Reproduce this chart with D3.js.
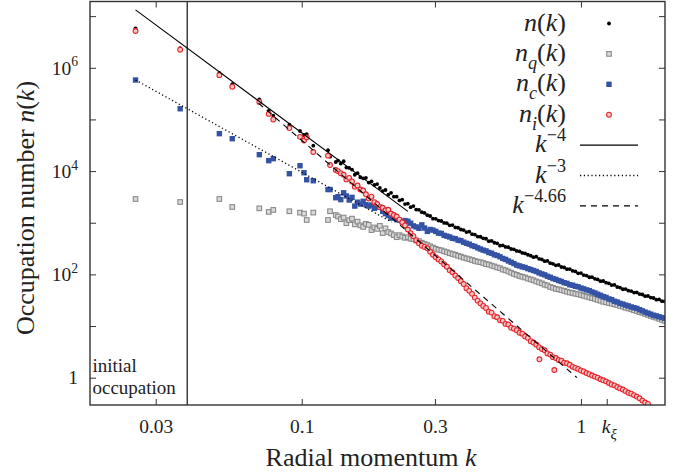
<!DOCTYPE html>
<html>
<head>
<meta charset="utf-8">
<script src="https://cdn.jsdelivr.net/npm/d3@7"></script>
<style>
  body { margin: 0; background: #fff; }
  #chart text { font-family: 'Liberation Serif', 'DejaVu Serif', serif; fill: #222; }
</style>
</head>
<body>
<svg id="chart" width="684" height="476"></svg>
<script>
// radial momentum bins, shared by the four spectra
const k = [
  0.0254, 0.0367, 0.0507, 0.0564, 0.0705, 0.0762, 0.0791, 0.0903, 0.0986, 0.1019, 0.1042, 0.1100, 0.1242, 0.1263, 0.1324,
  0.1349, 0.1380, 0.1413, 0.1445, 0.1479, 0.1514, 0.1549, 0.1585,
  0.1622, 0.1660, 0.1698, 0.1738, 0.1778, 0.1820, 0.1862, 0.1905, 0.1950, 0.1995,
  0.2042, 0.2089, 0.2138, 0.2188, 0.2239, 0.2291, 0.2344, 0.2399, 0.2455, 0.2512,
  0.2570, 0.2630, 0.2692, 0.2754, 0.2818, 0.2884, 0.2951, 0.3020, 0.3090, 0.3162,
  0.3236, 0.3311, 0.3388, 0.3467, 0.3548, 0.3631, 0.3715, 0.3802, 0.3890, 0.3981,
  0.4074, 0.4169, 0.4266, 0.4365, 0.4467, 0.4571, 0.4677, 0.4786, 0.4898, 0.5012,
  0.5129, 0.5248, 0.5370, 0.5495, 0.5623, 0.5754, 0.5888, 0.6026, 0.6166, 0.6310,
  0.6457, 0.6607, 0.6761, 0.6918, 0.7079, 0.7244, 0.7413, 0.7586, 0.7762, 0.7943,
  0.8128, 0.8318, 0.8511, 0.8710, 0.8913, 0.9120, 0.9333, 0.9550, 0.9772, 1.000,
  1.023, 1.047, 1.072, 1.096, 1.122, 1.148, 1.175, 1.202, 1.230, 1.259,
  1.288, 1.318, 1.349, 1.380, 1.413, 1.445, 1.479, 1.514, 1.549, 1.585,
  1.622, 1.660, 1.698, 1.738, 1.778, 1.820, 1.862, 1.905, 1.950, 1.995
];

// n(k), total
const nTotal = [
  5.8e6, 2.39e6, 8.0e5, 4.8e5, 2.45e5, 1.46e5, 1.18e5, 7.9e4, 5.97e4, 5.0e4, 5.2e4, 3.1e4, 2.53e4, 1.9e4, 1.5e4,
  1.6e4, 1.4e4, 1.55e4, 1.17e4, 1.15e4, 1.07e4, 8.5e3, 9.1e3,
  7.6e3, 7.2e3, 7.4e3, 6.0e3, 6.3e3, 5.4e3, 5.6e3, 4.7e3, 4.1e3, 4.3e3,
  3.5e3, 3.8e3, 3.2e3, 3.2e3, 2.7e3, 2.8e3, 2.3e3, 2.34e3, 2.0e3, 2.1e3,
  1.8e3, 1.78e3, 1.6e3, 1.55e3, 1.4e3, 1.35e3, 1.2e3, 1.19e3, 1.1e3, 1.08e3,
  990, 980, 890, 900, 810, 800, 740, 720, 660, 670,
  600, 590, 540, 535, 500, 490, 440, 445, 410, 400,
  360, 365, 340, 335, 310, 305, 285, 280, 260, 255,
  240, 230, 215, 220, 200, 195, 180, 182, 165, 160,
  150, 152, 139, 136, 126, 127, 117, 114, 105, 106,
  97, 95, 88, 88.5, 82, 80, 74, 74.5, 69, 67,
  62, 62.5, 57, 55.6, 51.6, 52, 48.4, 47.6, 44.4, 44.7,
  41.5, 40.8, 37.9, 38.2, 35.5, 34.9, 32.4, 32.7, 30.3, 29.9
];

// n_q(k), quantum pressure part
const nQuantum = [
  2.88e3, 2.52e3, 2.88e3, 2.02e3, 1.9e3, 1.62e3, 1.77e3, 1.67e3, 1.57e3, 1.5e3, 1.13e3, 1.57e3, 1.13e3, 1.67e3, 1.41e3,
  1.32e3, 1.17e3, 1.26e3, 980, 1.12e3, 1.2e3, 930, 1.05e3,
  890, 830, 950, 910, 720, 810, 760, 870, 630, 780,
  660, 620, 575, 525, 575, 540, 510, 525, 490, 480,
  450, 440, 410, 390, 370, 350, 330, 313, 300, 292,
  279, 270, 257, 248, 240, 229, 221, 211, 204, 197,
  190, 182, 176, 172, 166, 158, 155, 148, 143, 136,
  132, 124, 120, 114, 108, 102, 98, 93, 90, 87,
  83, 80, 77, 73, 70, 67, 63, 61, 57, 55,
  52.5, 51.3, 49.5, 47.9, 46.2, 44.7, 43.7, 42.2, 41.2, 39.8,
  38.5, 37.2, 35.9, 34.7, 33.5, 32, 30.9, 29.5, 28.8, 27.9,
  27.2, 26.3, 25.4, 24.5, 23.7, 22.6, 21.9, 21.1, 20.2, 19.5,
  18.6, 18, 17.2, 16.4, 15.7, 15, 14.5, 13.8, 13.2, 12.6
];

// n_c(k), compressible part
const nComp = [
  5.8e5, 1.61e5, 5.3e4, 4.24e4, 2.08e4, 1.59e4, 1.74e4, 8.9e3, 1.27e4, 9.3e3, 6.8e3, 6.5e3, 4.4e3, 4.4e3, 3.05e3,
  3.2e3, 2.8e3, 3.8e3, 3.3e3, 2.75e3, 3.1e3, 2.1e3, 2.5e3,
  2.3e3, 2.6e3, 2.24e3, 2.1e3, 2.2e3, 1.9e3, 2.04e3, 2.0e3, 1.66e3, 1.5e3,
  1.38e3, 1.23e3, 1.26e3, 1.15e3, 1.12e3, 1.05e3, 1.1e3, 1.07e3, 980, 870,
  830, 780, 910, 790, 680, 740, 720, 680, 630, 620,
  570, 550, 530, 500, 490, 460, 450, 420, 400, 385,
  360, 347, 327, 310, 295, 285, 266, 257, 240, 232,
  219, 204, 195, 182, 172, 162, 151, 146, 140, 136,
  129, 124, 119, 114, 107, 102, 98, 92, 88, 83,
  80, 76, 73, 69, 67, 63, 61.7, 58.9, 57.5, 54.3,
  52.5, 50.1, 48.4, 45.7, 43.7, 41.2, 39.4, 37.2, 35.9, 33.5,
  32.4, 30.2, 29.2, 27.5, 26.6, 25.4, 24.5, 23.4, 22.6, 21.9,
  20.7, 19.7, 18.6, 17.8, 17.0, 16.2, 15.7, 15.1, 14.6, 14.1
];

// n_i(k), incompressible part
const nIncomp = [
  5.15e6, 2.24e6, 7.2e5, 4.3e5, 2.18e5, 1.28e5, 1.0e5, 6.8e4, 4.6e4, 3.9e4, 4.5e4, 2.34e4, 1.99e4, 1.31e4, 1.05e4,
  1.0e4, 9.1e3, 8.5e3, 6.9e3, 7.4e3, 6.3e3, 5.0e3, 5.25e3,
  4.4e3, 4.2e3, 3.55e3, 2.95e3, 3.2e3, 2.5e3, 2.3e3, 2.0e3, 1.95e3, 1.74e3,
  1.78e3, 1.51e3, 1.41e3, 1.32e3, 1.15e3, 1.02e3, 890, 740, 630, 550,
  460, 400, 360, 340, 320, 275, 240, 214, 195, 178,
  158, 141, 120, 110, 95, 85, 74, 65, 54, 48,
  42, 35.5, 31, 27.5, 24.5, 22.4, 19, 18.2, 15.5, 14.8,
  12.9, 12.6, 11, 10.7, 9.3, 8.9, 8.3, 7.4, 7.1, 6.3,
  5.9, 5.1, 4.8, 4.4, 3.9, 3.6, 3.4, 2.95, 2.8, 2.5,
  2.4, 2.2, 2.14, 1.95, 1.9, 1.78, 1.62, 1.55, 1.48, 1.38,
  1.32, 1.23, 1.17, 1.1, 1.05, 1.0, 0.93, 0.89, 0.85, 0.79,
  0.74, 0.71, 0.66, 0.62, 0.59, 0.55, 0.51, 0.49, 0.46, 0.43,
  0.40, 0.36, 0.33, 0.31, null, null, null, null, null, null
];

// two stray n_i points below the band
const kStray = [0.710, 0.803];
const nIncompStray = [2.27, 1.41];

// power-law guides n = A k^p
const fitPower = [-4, -3, -4.66];
const fitAmp = [5.5, 9.5, 0.86];
const fitFrom = [0.0254, 0.0254, 0.070];
const fitTo = [0.24, 0.21, 0.968];

const xTicks = [0.03, 0.1, 0.3, 1];
const kXi = 1.237;
const yMajor = [1, 1e2, 1e4, 1e6];
const yMinor = [10, 1e3, 1e5, 1e7];
const kInitial = 0.0389;

const FONT = "'Liberation Serif', 'DejaVu Serif', serif";
const L = 90, R = 665, T = 1.5, B = 405;
const svg = d3.select("#chart");
const x = d3.scaleLog().domain([0.01745, 2.0]).range([L, R]);
const y = d3.scaleLog().domain([0.296, 1.92e7]).range([B, T]);

svg.append("defs").append("clipPath").attr("id", "plot")
  .append("rect").attr("x", L).attr("y", T).attr("width", R - L).attr("height", B - T);

function rich(sel, parts, size) {
  sel.style("font-family", FONT);
  let shift = 0;
  parts.forEach(p => {
    const ts = sel.append("tspan").text(p.t);
    const target = p.sub ? size * 0.3 : p.sup ? -size * 0.42 : 0;
    if (target !== shift) { ts.attr("dy", target - shift); shift = target; }
    if (p.sub || p.sup) ts.attr("font-size", size * 0.7);
    if (p.i) ts.attr("font-style", "italic");
  });
}

// axes, ticks pointing inward
const axisStyle = g => {
  g.select(".domain").remove();
  g.attr("font-family", FONT).attr("font-size", null);
  g.selectAll(".tick line").attr("stroke", "#333").attr("stroke-width", 1);
};

const gx = svg.append("g").attr("transform", `translate(0,${B})`)
  .call(d3.axisBottom(x).tickValues([...xTicks, kXi]).tickSize(-6).tickPadding(14).tickFormat(d => d))
  .call(axisStyle);
gx.selectAll(".tick text").style("font-size", "19.5px").each(function (d) {
  const t = d3.select(this);
  if (d === kXi) { t.text(""); t.attr("x", 2); rich(t, [{ t: "k", i: 1 }, { t: "ξ", i: 1, sub: 1 }], 21); }
  else t.text(d3.format("~g")(d));
});

svg.append("g").attr("transform", `translate(0,${T})`)
  .call(d3.axisTop(x).tickValues(xTicks).tickSize(-6).tickFormat(""))
  .call(axisStyle);

const gy = svg.append("g").attr("transform", `translate(${L},0)`)
  .call(d3.axisLeft(y).tickValues([...yMajor, ...yMinor]).tickSize(-6).tickPadding(12).tickFormat(""))
  .call(axisStyle);
gy.selectAll(".tick text").style("font-size", "19.5px").each(function (d) {
  const t = d3.select(this);
  if (!yMajor.includes(d)) return;
  if (d === 1) t.text("1");
  else rich(t, [{ t: "10" }, { t: String(Math.round(Math.log10(d))), sup: 1 }], 19.5);
});

svg.append("g").attr("transform", `translate(${R},0)`)
  .call(d3.axisRight(y).tickValues([...yMajor, ...yMinor]).tickSize(-6).tickFormat(""))
  .call(axisStyle);

// data
const plot = svg.append("g").attr("clip-path", "url(#plot)");
const rows = k.map((kv, i) => ({ k: kv, n: nTotal[i], q: nQuantum[i], c: nComp[i], inc: nIncomp[i] }));

plot.append("line")
  .attr("x1", x(kInitial)).attr("x2", x(kInitial)).attr("y1", T).attr("y2", B)
  .attr("stroke", "#111").attr("stroke-width", 1.2);

const styles = {
  n: { color: "#000" },
  q: { fill: "#dadada", stroke: "#8a8a8a" },
  c: { fill: "#3553a5" },
  inc: { fill: "#f6c6c6", stroke: "#e5262b" }
};

function drawDot(g, cx, cy) { g.append("circle").attr("cx", cx).attr("cy", cy).attr("r", 1.9).attr("fill", styles.n.color); }
function drawOpenSquare(g, cx, cy) {
  g.append("rect").attr("x", cx - 2.3).attr("y", cy - 2.3).attr("width", 4.6).attr("height", 4.6)
    .attr("fill", styles.q.fill).attr("stroke", styles.q.stroke).attr("stroke-width", 1.1);
}
function drawSquare(g, cx, cy) {
  g.append("rect").attr("x", cx - 2.7).attr("y", cy - 2.7).attr("width", 5.4).attr("height", 5.4).attr("fill", styles.c.fill);
}
function drawRing(g, cx, cy) {
  g.append("circle").attr("cx", cx).attr("cy", cy).attr("r", 2.4)
    .attr("fill", styles.inc.fill).attr("stroke", styles.inc.stroke).attr("stroke-width", 1.1);
}

const gN = plot.append("g"), gQ = plot.append("g"), gC = plot.append("g"), gI = plot.append("g");
rows.forEach(r => drawDot(gN, x(r.k), y(r.n)));
rows.forEach(r => drawOpenSquare(gQ, x(r.k), y(r.q)));
rows.forEach(r => drawSquare(gC, x(r.k), y(r.c)));
rows.filter(r => r.inc != null).forEach(r => drawRing(gI, x(r.k), y(r.inc)));
kStray.forEach((kv, i) => drawRing(gI, x(kv), y(nIncompStray[i])));

// power-law guides
const fitDash = [null, "1.2,2.6", "6,5"];
const fitWidth = [1.1, 1.3, 1.1];
const line = d3.line().x(d => x(d[0])).y(d => y(d[1]));
fitPower.forEach((p, i) => {
  const pts = [fitFrom[i], fitTo[i]].map(kv => [kv, fitAmp[i] * Math.pow(kv, p)]);
  plot.append("path").attr("d", line(pts)).attr("fill", "none")
    .attr("stroke", "#000").attr("stroke-width", fitWidth[i]).attr("stroke-dasharray", fitDash[i]);
});

// frame
svg.append("rect").attr("x", L).attr("y", T).attr("width", R - L).attr("height", B - T)
  .attr("fill", "none").attr("stroke", "#333").attr("stroke-width", 1.4);

// legend
const legendLabels = [
  [{ t: "n", i: 1 }, { t: "(" }, { t: "k", i: 1 }, { t: ")" }],
  [{ t: "n", i: 1 }, { t: "q", i: 1, sub: 1 }, { t: "(" }, { t: "k", i: 1 }, { t: ")" }],
  [{ t: "n", i: 1 }, { t: "c", i: 1, sub: 1 }, { t: "(" }, { t: "k", i: 1 }, { t: ")" }],
  [{ t: "n", i: 1 }, { t: "i", i: 1, sub: 1 }, { t: "(" }, { t: "k", i: 1 }, { t: ")" }],
  [{ t: "k", i: 1 }, { t: "\u22124", sup: 1 }],
  [{ t: "k", i: 1 }, { t: "\u22123", sup: 1 }],
  [{ t: "k", i: 1 }, { t: "\u22124.66", sup: 1 }]
];
const leg = svg.append("g");
legendLabels.forEach((parts, i) => {
  const ly = 23.5 + i * 30.4;
  const t = leg.append("text").attr("x", 566).attr("y", ly + 7).attr("text-anchor", "end").style("font-size", "26px");
  rich(t, parts, 26);
  if (i === 0) drawDot(leg, 609, ly);
  if (i === 1) drawOpenSquare(leg, 609, ly);
  if (i === 2) drawSquare(leg, 609, ly);
  if (i === 3) drawRing(leg, 609, ly);
  if (i >= 4) leg.append("line").attr("x1", 580).attr("x2", 638).attr("y1", ly).attr("y2", ly)
    .attr("stroke", "#000").attr("stroke-width", fitWidth[i - 4]).attr("stroke-dasharray", fitDash[i - 4]);
});

// annotations and titles
svg.append("text").attr("x", 92.5).attr("y", 371.5).style("font-size", "19px").style("font-family", FONT).text("initial");
svg.append("text").attr("x", 92.5).attr("y", 393.5).style("font-size", "19px").style("font-family", FONT).text("occupation");

const xt = svg.append("text").attr("x", 371).attr("y", 466).attr("text-anchor", "middle").style("font-size", "26px");
rich(xt, [{ t: "Radial momentum " }, { t: "k", i: 1 }], 26);

const yt = svg.append("text").attr("transform", "translate(33.5,208) rotate(-90)")
  .attr("text-anchor", "middle").style("font-size", "26px");
rich(yt, [{ t: "Occupation number " }, { t: "n", i: 1 }, { t: "(" }, { t: "k", i: 1 }, { t: ")" }], 26);
</script>
</body>
</html>
